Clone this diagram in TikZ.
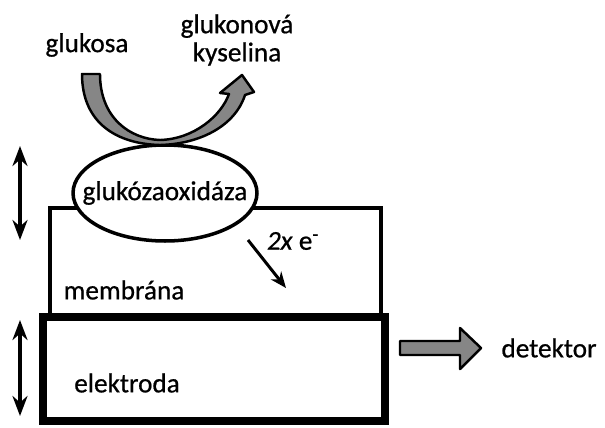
\documentclass[tikz,border=0pt]{standalone}
\usepackage{fontspec}
\setmainfont[FakeBold=0.7]{Carlito}
\usepackage{tikz}
\usetikzlibrary{
	arrows.meta,
	positioning,
	shapes.geometric
}
\tikzset{every path/.append style={line width=0.5pt}}
\tikzset{
	lbl/.style={font=\fontsize{15.5}{17}\selectfont,inner sep=0pt,align=center},
	layer/.style={draw,line width=2.1pt},
	thick layer/.style={draw,line width=4.2pt},
	flow/.style={draw,fill=gray!95,line width=1.4pt,line join=round},
	span/.style={<->,>={Stealth[length=4mm,width=3mm]},line width=2pt}
}
\newcommand{\tikzPt}[2]{\coordinate (#2) at #1;}

\begin{document}
\begin{tikzpicture}[x=0.02cm,y=-0.02cm]
	\useasboundingbox (0,0) rectangle (605,427);

	% layers
	\draw[layer] (50,315) -- (50,208) -- (381,208) -- (381,315);
	\draw[thick layer] (43,317) rectangle (385,421);
	\node (enz) at (165,193) [ellipse,draw,fill=white,line width=2pt,
		minimum width=3.68cm,minimum height=1.92cm,inner sep=0pt] {};
	\node[lbl] at (enz.center) {glukózaoxidáza};

	\node[lbl] (mem) at (124,290) {membrána};
	\node[lbl] (el) at (127,383) {elektroda};

	% reaction
	\node[lbl] (glc) at (87,45) {glukosa};
	\node[lbl] (gla) at (237,40) {glukonová\\[-1pt]kyselina};
	\filldraw[flow] (82,74) -- (100,74)
		.. controls (100,118) and (130,139) .. (160,140)
		.. controls (194,139) and (221,116) .. (229,94)
		-- (220,93) -- (242,75) -- (254,92) -- (245,95)
		.. controls (235,126) and (200,144) .. (160,145)
		.. controls (118,144) and (82,124) .. (82,74) -- cycle;

	% electrons
	\tikzPt{(248,240)}{e1}
	\tikzPt{(286,288)}{e2}
	\draw[->,>={Stealth[length=3.2mm,width=2.6mm]},line width=1.7pt] (e1) -- (e2);
	\node[lbl] (ex) at (293,241) {\textit{2x} e\textsuperscript{-}};

	% thickness arrows
	\tikzPt{(20,146)}{t1}
	\tikzPt{(20,240)}{t2}
	\tikzPt{(20,320)}{t3}
	\tikzPt{(20,416)}{t4}
	\draw[span] (t1) -- (t2);
	\draw[span] (t3) -- (t4);

	% output
	\node[lbl] (det) at (549,348) {detektor};
	\filldraw[flow] (400,341) -- (460,341) -- (460,328) -- (481,348)
		-- (460,369) -- (460,355) -- (400,355) -- cycle;
\end{tikzpicture}
\end{document}
